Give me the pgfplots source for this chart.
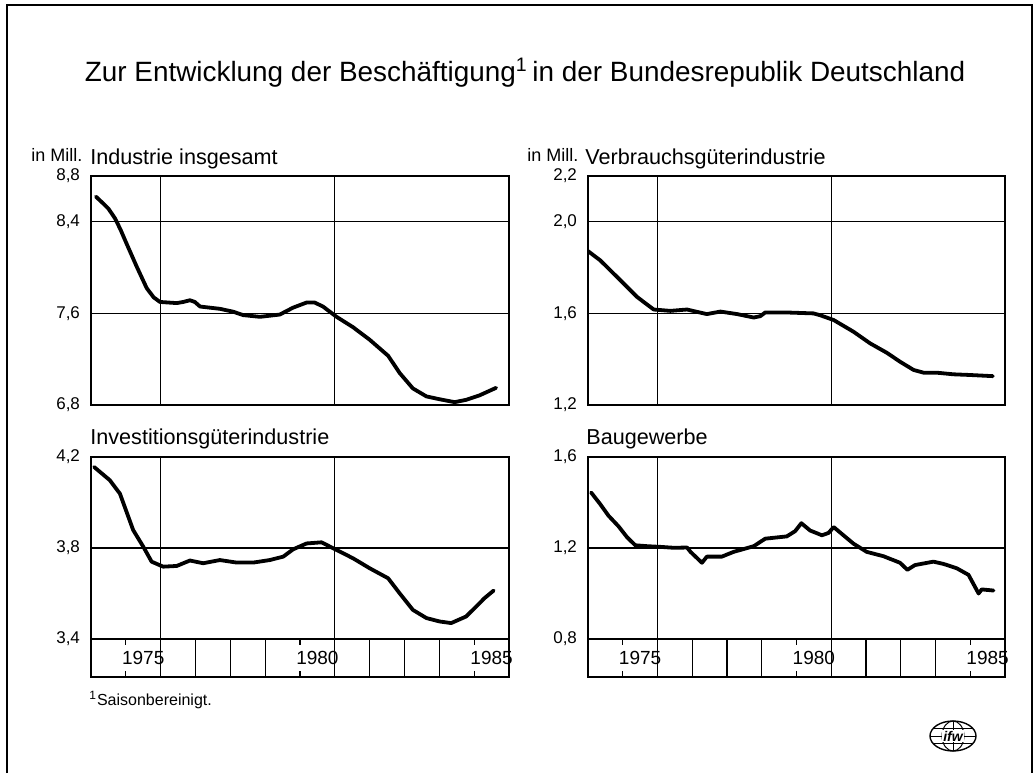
\documentclass[border=0pt]{standalone}
\usepackage{pgfplots}
\usepackage{pgfplotstable}
\pgfplotsset{compat=1.18}
\usepackage{fontspec}
\setmainfont{Liberation Sans}

\pgfplotstableread{
x y
1974.14 8.62
1974.35 8.56
1974.50 8.515
1974.69 8.43
1974.85 8.33
1975.02 8.21
1975.31 8.01
1975.60 7.82
1975.80 7.74
1975.98 7.70
1976.46 7.69
1976.65 7.70
1976.84 7.715
1976.98 7.70
1977.13 7.66
1977.70 7.64
1978.08 7.615
1978.37 7.585
1978.85 7.57
1979.42 7.59
1979.80 7.65
1980.19 7.695
1980.42 7.695
1980.66 7.66
1981.05 7.57
1981.52 7.48
1982.00 7.37
1982.53 7.23
1982.86 7.08
1983.24 6.945
1983.63 6.875
1984.01 6.85
1984.44 6.825
1984.77 6.845
1985.16 6.885
1985.63 6.95
}\industrie

\pgfplotstableread{
x y
1974.00 1.872
1974.35 1.832
1974.93 1.745
1975.41 1.672
1975.89 1.617
1976.37 1.611
1976.85 1.617
1977.13 1.607
1977.42 1.597
1977.81 1.608
1978.29 1.597
1978.77 1.582
1978.96 1.588
1979.10 1.604
1979.72 1.604
1980.49 1.600
1980.68 1.592
1981.07 1.571
1981.64 1.520
1982.12 1.469
1982.60 1.428
1982.98 1.389
1983.37 1.353
1983.66 1.341
1984.04 1.341
1984.52 1.334
1985.00 1.331
1985.65 1.326
}\verbrauch

\pgfplotstableread{
x y
1974.09 4.156
1974.54 4.098
1974.83 4.039
1975.21 3.879
1975.50 3.806
1975.74 3.740
1976.07 3.718
1976.46 3.721
1976.84 3.745
1977.22 3.733
1977.70 3.747
1978.18 3.736
1978.66 3.736
1979.13 3.747
1979.52 3.762
1979.80 3.794
1980.19 3.820
1980.62 3.825
1980.95 3.799
1981.52 3.755
1982.00 3.711
1982.53 3.667
1982.86 3.601
1983.24 3.528
1983.63 3.492
1984.01 3.477
1984.34 3.470
1984.77 3.499
1985.06 3.543
1985.30 3.580
1985.56 3.613
}\investition

\pgfplotstableread{
x y
1974.09 1.444
1974.35 1.393
1974.59 1.342
1974.88 1.295
1975.12 1.248
1975.36 1.212
1975.70 1.208
1976.08 1.205
1976.46 1.201
1976.85 1.202
1976.95 1.183
1977.28 1.135
1977.42 1.162
1977.85 1.162
1978.19 1.183
1978.77 1.208
1979.10 1.241
1979.72 1.251
1979.96 1.274
1980.14 1.309
1980.39 1.277
1980.73 1.256
1980.92 1.266
1981.07 1.292
1981.35 1.256
1981.64 1.219
1982.02 1.183
1982.50 1.164
1982.98 1.135
1983.19 1.104
1983.41 1.125
1983.94 1.140
1984.23 1.130
1984.61 1.111
1984.95 1.082
1985.24 1.000
1985.33 1.018
1985.67 1.013
}\bau

\pgfplotsset{
  panel/.style={
    scale only axis, anchor=south west,
    xmin=1974, xmax=1986,
    axis line style={line width=0.8pt},
    xtick={1976,1981}, xticklabels={},
    xmajorgrids, ymajorgrids,
    major grid style={black, line width=0.55pt},
    major tick length=0pt,
    yticklabel style={font=\fontsize{8.5}{10}\selectfont, xshift=-2pt},
    /pgf/number format/use comma,
    /pgf/number format/fixed,
    /pgf/number format/fixed zerofill,
    /pgf/number format/precision=1,
    /pgf/number format/assume math mode=true,
  },
  band/.style={
    scale only axis, anchor=south west,
    xmin=1974, xmax=1986, ymin=0, ymax=1,
    axis line style={line width=0.8pt},
    ytick=\empty,
    xtick={1975.5,1980.5,1985.5}, xticklabels={1975,1980,1985},
    major tick length=0pt,
    minor xtick={1975,1980,1985},
    minor tick length=3pt,
    tick align=inside, xtick pos=both,
    minor tick style={black, line width=0.6pt},
    xticklabel style={anchor=center, yshift=9.5pt, font=\fontsize{9.5}{10}\selectfont},
    extra x ticks={1976,1977,1978,1979,1981,1982,1983,1984},
    extra x tick labels={},
    extra x tick style={grid=major, major grid style={black, line width=0.6pt}, major tick length=0pt},
  },
  curve/.style={black, line width=1.9pt, line join=round, line cap=round, no markers},
}

\begin{document}
\begin{tikzpicture}
\path[use as bounding box] (0pt,0pt) rectangle (517pt,386.5pt);
% frame
\draw[line width=0.6pt] (3.5pt,0pt) -- (3.5pt,384pt) -- (516pt,384pt) -- (516pt,0pt);

% title
\node[anchor=base, inner sep=0pt, font=\fontsize{13.95}{16}\selectfont] at (262.5pt,345.5pt)
  {Zur Entwicklung der Beschäftigung\textsuperscript{1}\,in der Bundesrepublik Deutschland};

% panel titles
\node[anchor=base west, inner sep=0pt, font=\fontsize{9}{10}\selectfont] at (15.5pt,305.5pt) {in Mill.};
\node[anchor=base west, inner sep=0pt, font=\fontsize{10.8}{12}\selectfont] at (45pt,304.5pt) {Industrie insgesamt};
\node[anchor=base west, inner sep=0pt, font=\fontsize{9}{10}\selectfont] at (263.5pt,305.5pt) {in Mill.};
\node[anchor=base west, inner sep=0pt, font=\fontsize{10.8}{12}\selectfont] at (292.5pt,304.5pt) {Verbrauchsgüterindustrie};
\node[anchor=base west, inner sep=0pt, font=\fontsize{10.8}{12}\selectfont] at (45pt,164.5pt) {Investitionsgüterindustrie};
\node[anchor=base west, inner sep=0pt, font=\fontsize{10.8}{12}\selectfont] at (293pt,164.5pt) {Baugewerbe};

% footnote
\node[anchor=base west, inner sep=0pt, font=\fontsize{8}{9}\selectfont] at (44.5pt,34pt) {\textsuperscript{1}Saisonbereinigt.};

% top left
\begin{axis}[panel, at={(45.5pt,184pt)}, width=209pt, height=114.5pt,
  ymin=6.8, ymax=8.8, ytick={6.8,7.6,8.4,8.8}]
\addplot[curve] table[x=x,y=y] {\industrie};
\end{axis}

% top right
\begin{axis}[panel, at={(294pt,184pt)}, width=208.5pt, height=114.5pt,
  ymin=1.2, ymax=2.2, ytick={1.2,1.6,2.0,2.2}]
\addplot[curve] table[x=x,y=y] {\verbrauch};
\end{axis}

% bottom left
\begin{axis}[panel, at={(45.5pt,67pt)}, width=209pt, height=91pt,
  ymin=3.4, ymax=4.2, ytick={3.4,3.8,4.2}]
\addplot[curve] table[x=x,y=y] {\investition};
\end{axis}
\begin{axis}[band, at={(45.5pt,48pt)}, width=209pt, height=19pt]
\end{axis}

% bottom right
\begin{axis}[panel, at={(294pt,67pt)}, width=208.5pt, height=91pt,
  ymin=0.8, ymax=1.6, ytick={0.8,1.2,1.6}]
\addplot[curve] table[x=x,y=y] {\bau};
\end{axis}
\begin{axis}[band, at={(294pt,48pt)}, width=208.5pt, height=19pt]
\end{axis}

% logo
\begin{scope}[shift={(476.5pt,18.5pt)}]
  \draw[line width=0.7pt] (0,0) ellipse (11.5pt and 7.5pt);
  \draw[line width=0.5pt] (0,0) ellipse (5.5pt and 7.5pt);
  \draw[line width=0.5pt] (0,-7.5pt) -- (0,7.5pt);
  \draw[line width=0.5pt] (-11.5pt,0) -- (11.5pt,0);
  \draw[line width=0.5pt] (-10pt,3.8pt) -- (10pt,3.8pt);
  \draw[line width=0.5pt] (-10pt,-3.8pt) -- (10pt,-3.8pt);
  \node[inner sep=0.5pt, fill=white, font=\bfseries\itshape\fontsize{7}{7}\selectfont] at (0,0) {ifw};
\end{scope}
\end{tikzpicture}
\end{document}
